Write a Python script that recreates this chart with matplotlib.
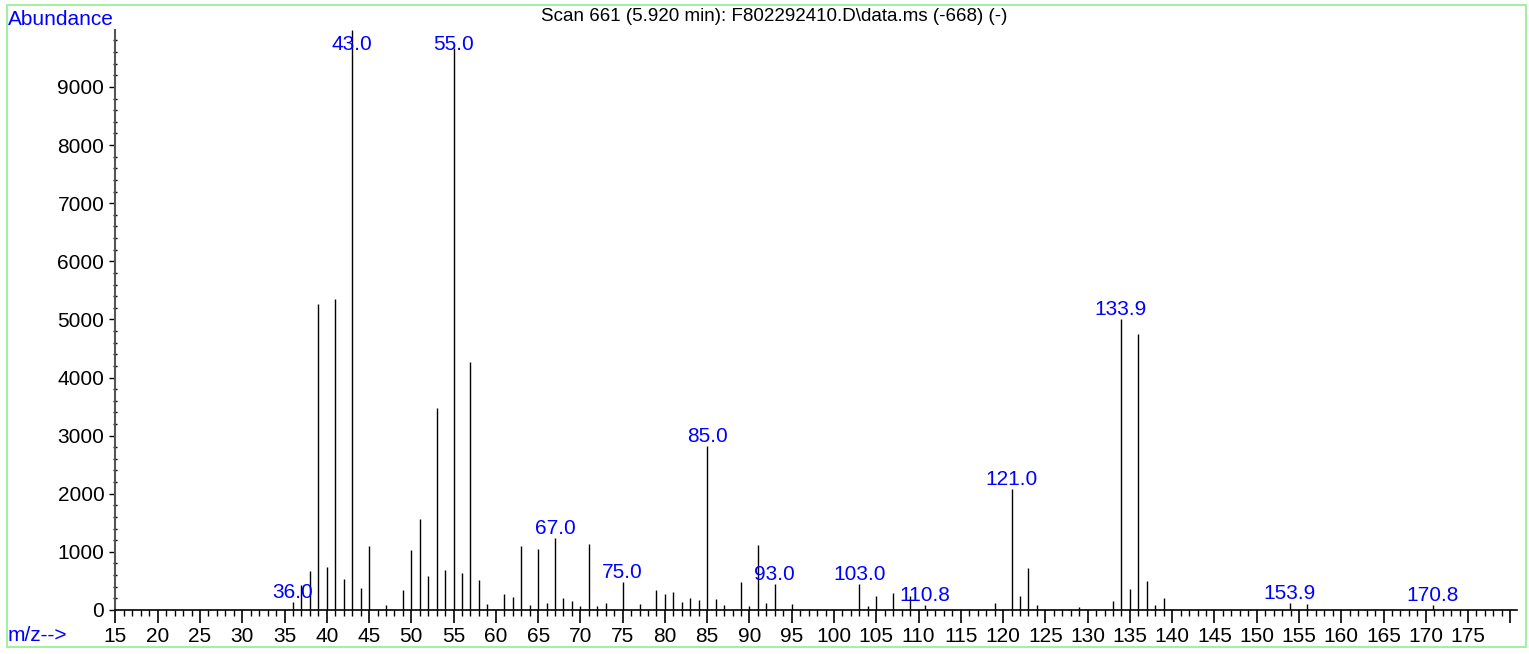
import numpy as np
import matplotlib.pyplot as plt
from matplotlib.patches import Rectangle
from matplotlib.ticker import MultipleLocator, FuncFormatter

plt.rcParams['font.family'] = ['Liberation Sans', 'DejaVu Sans']

###########################################################
# data

mz = [36, 37, 38, 39, 40, 41, 42, 43, 44, 45, 47, 49, 50, 51, 52, 53, 54, 55,
      56, 57, 58, 59, 61, 62, 63, 64, 65, 66, 67, 68, 69, 70, 71, 72, 73, 75,
      77, 79, 80, 81, 82, 83, 84, 85, 86, 87, 89, 90, 91, 92, 93, 95, 103, 104,
      105, 107, 109, 110.8, 119, 121, 122, 123, 124, 129, 133, 133.9, 135, 136,
      137, 138, 139, 153.9, 156, 170.8]
abundance = [132, 430, 677, 5267, 746, 5350, 540, 9980, 385, 1107, 86, 339,
             1033, 1566, 591, 3477, 683, 9670, 631, 4274, 522, 109, 275, 218,
             1096, 80, 1044, 120, 1234, 207, 155, 72, 1140, 72, 120, 482,
             98, 344, 281, 310, 143, 207, 178, 2817, 195, 92, 488, 75, 1113, 115,
             442, 98, 442, 69, 247, 293, 247, 86, 115, 2088, 241, 723, 92, 57,
             155, 5014, 356, 4756, 505, 92, 207, 122, 99, 82]

label_mz = [36.0, 43.0, 55.0, 67.0, 75.0, 85.0, 93.0, 103.0, 110.8, 121.0,
            133.9, 153.9, 170.8]

title = 'Scan 661 (5.920 min): F802292410.D\\data.ms (-668) (-)'
next_title = '#14500: 1-Propene, 2-methyl-'

###########################################################
# plot

fig = plt.figure(figsize=(15.29, 6.54), dpi=100)
ax = fig.add_axes([0.0755, 0.0673, 0.9167, 0.8869])

ax.vlines(mz, 0, abundance, colors='black', lw=1.0)

ax.set_xlim(15, 180.8)
ax.set_ylim(0, 9980)

# peak labels, capped at the top of the plot
heights = dict(zip(mz, abundance))
for m in label_mz:
    y = min(heights[m] + 70, 9640)
    ax.text(m, y, '%.1f' % m, color='blue', fontsize=15, ha='center', va='baseline')

# axes styling
for side in ['top', 'right']:
    ax.spines[side].set_visible(False)
ax.spines['left'].set_color('#555555')
ax.spines['left'].set_linewidth(1.5)
ax.spines['bottom'].set_linewidth(1.2)

ax.xaxis.set_major_locator(MultipleLocator(5))
ax.xaxis.set_minor_locator(MultipleLocator(1))
ax.xaxis.set_major_formatter(FuncFormatter(lambda v, p: '' if v >= 180 else '%d' % v))
ax.yaxis.set_major_locator(MultipleLocator(1000))
ax.yaxis.set_minor_locator(MultipleLocator(200))
ax.tick_params(axis='x', which='major', length=9, width=1.2, labelsize=15, pad=3)
ax.tick_params(axis='x', which='minor', length=4.5, width=1.0)
ax.tick_params(axis='y', which='major', length=4, width=1.0, labelsize=15, pad=4)
ax.tick_params(axis='y', which='minor', length=3, width=1.0, direction='inout')

# text around the plot
fig.text(0.005, (654 - 25) / 654, 'Abundance', color='blue', fontsize=15, va='baseline')
fig.text(774 / 1529, (654 - 21) / 654, title, fontsize=13.5, ha='center', va='baseline')
fig.text(0.005, (654 - 641) / 654, 'm/z-->', color='blue', fontsize=15, va='baseline')
fig.text(0.005, -0.0245, 'Abundance', color='blue', fontsize=15, va='baseline')
fig.text(652 / 1529, -0.0245, next_title, color='blue', fontsize=15, va='baseline')

# light green frame around the panel
fig.patches.append(Rectangle((7 / 1529, (654 - 647) / 654), 1519 / 1529, 642 / 654,
                             transform=fig.transFigure, fill=False,
                             edgecolor='#90EE90', lw=1.2))

fig.savefig('out.png', dpi=100)
